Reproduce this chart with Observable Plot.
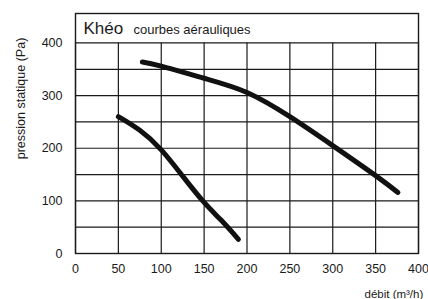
<!DOCTYPE html>
<html>
<head>
<meta charset="utf-8">
<script src="https://cdn.jsdelivr.net/npm/d3@7"></script>
<script src="https://cdn.jsdelivr.net/npm/@observablehq/plot@0.6"></script>
<style>
  html, body { margin: 0; padding: 0; background: #fff; overflow: hidden; }
  svg { display: block; }
</style>
</head>
<body>
<div id="chart"></div>
<script>
// Data
const xTicks = [0, 50, 100, 150, 200, 250, 300, 350, 400];
const yTicks = [0, 100, 200, 300, 400];
const yGrid = [0, 50, 100, 150, 200, 250, 300, 350, 400];

const fanAQ = [78, 100, 150, 200, 250, 300, 350, 376];
const fanAP = [364, 356, 333, 306, 260, 205, 148, 116];
const fanBQ = [50, 75, 100, 125, 150, 170, 190];
const fanBP = [260, 234, 197, 147, 97, 63, 27];

const title = "Khéo";
const subtitle = "courbes aérauliques";
const yLabel = "pression statique (Pa)";
const xLabel = "débit (m³/h)";

const curveA = fanAQ.map((q, i) => ({q, p: fanAP[i]}));
const curveB = fanBQ.map((q, i) => ({q, p: fanBP[i]}));

const ink = "#1a1a1a";
const font = "Liberation Sans, Arial, Helvetica, sans-serif";

const chart = Plot.plot({
  width: 428,
  height: 299,
  marginLeft: 75,
  marginRight: 10,
  marginTop: 13,
  marginBottom: 46,
  style: {fontFamily: font, color: ink, background: "#fff"},
  x: {domain: [0, 400]},
  y: {domain: [0, 456]},
  marks: [
    Plot.ruleX(xTicks, {y1: 0, y2: 400, stroke: ink, strokeWidth: 1.2}),
    Plot.ruleY(yGrid, {stroke: ink, strokeWidth: 1.2}),
    Plot.frame({stroke: ink, strokeWidth: 1.4}),
    Plot.axisX(xTicks, {tickSize: 0, tickPadding: 11, fontSize: 12.5, label: null, fill: ink}),
    Plot.axisY(yTicks, {tickSize: 0, tickPadding: 13, fontSize: 12.5, label: null, fill: ink}),
    Plot.line(curveA, {x: "q", y: "p", curve: "natural", stroke: "#111", strokeWidth: 5, strokeLinecap: "round"}),
    Plot.line(curveB, {x: "q", y: "p", curve: "natural", stroke: "#111", strokeWidth: 5, strokeLinecap: "round"}),
    Plot.text([title], {frameAnchor: "top-left", dx: 8, dy: 20, lineAnchor: "bottom", textAnchor: "start", fontSize: 17, fill: ink}),
    Plot.text([subtitle], {frameAnchor: "top-left", dx: 58, dy: 20, lineAnchor: "bottom", textAnchor: "start", fontSize: 13, fill: ink}),
    Plot.text([yLabel], {frameAnchor: "left", dx: -55, dy: -35, rotate: -90, textAnchor: "middle", fontSize: 12.5, fill: ink}),
    Plot.text([xLabel], {frameAnchor: "bottom-right", dx: -54, dy: 41, textAnchor: "start", lineAnchor: "middle", fontSize: 11.5, fill: ink})
  ]
});
document.getElementById("chart").appendChild(chart);
</script>
</body>
</html>
